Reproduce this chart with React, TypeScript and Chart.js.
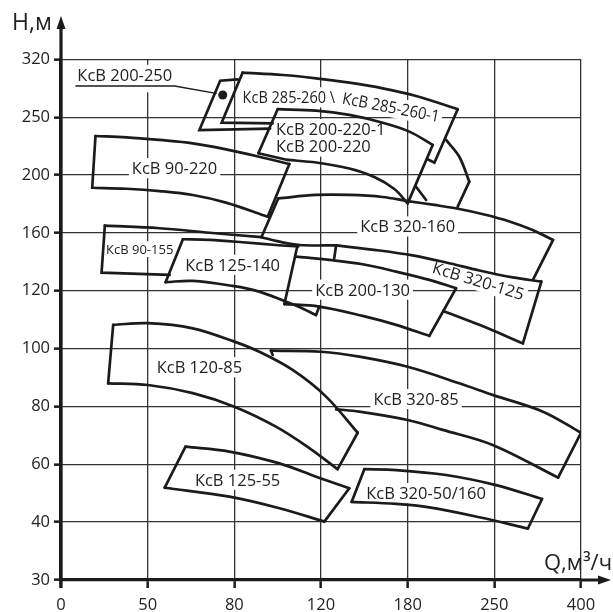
import React, { useEffect, useRef } from "react";
import { Chart, registerables, LinearScale } from "chart.js";

type Pt = [number, number]; // [Q, m³/h ; H, m]

// Axis stops: each interval between neighbouring stops gets the same length
const FLOW_TICKS = [0, 50, 80, 120, 180, 250, 400];
const HEAD_TICKS = [30, 40, 60, 80, 100, 120, 160, 200, 250, 320];

// Operating fields of the КсВ pumps: head curves (Q, H) and the edges between them
const KSV_200_250: Pt[] = [[81.5, 295.8], [75.1, 294.1], [67.9, 238.9], [96.5, 240.1]];
const KSV_200_250_POINT: Pt[] = [[76.0, 276.8]];
const KSV_200_250_LEADER: Pt[] = [[8.6, 287.7], [59.3, 287.7], [73.7, 278.9]];

const KSV_285_260_LEFT: Pt[] = [[97.7, 244.7], [75.6, 245.2], [83.8, 303.8]];
const KSV_285_260_TOP: Pt[] = [
  [83.8, 303.8], [102.3, 301.0], [117.7, 297.0], [139.6, 291.7], [162.7, 284.9], [186.8, 275.6], [220.4, 259.6],
];
const KSV_285_260_RIGHT: Pt[] = [[220.4, 259.6], [201.6, 210.6], [196.1, 213.6]];

const KSV_200_220_LEFT: Pt[] = [[91.1, 218.8], [100.0, 259.6]];
const KSV_200_220_TOP: Pt[] = [
  [100.0, 259.6], [117.7, 257.9], [139.6, 252.7], [162.7, 245.2], [181.4, 237.5], [200.2, 226.0],
];
const KSV_200_220_RIGHT: Pt[] = [[200.2, 226.0], [180.0, 180.4]];
const KSV_200_220_BOTTOM: Pt[] = [
  [180.0, 180.4], [170.8, 190.3], [156.9, 198.6], [139.6, 205.6], [117.8, 210.8], [104.6, 213.0],
];
const KSV_200_220_HEEL: Pt[] = [[104.6, 213.0], [91.1, 218.8]];
const KSV_200_220_1_EDGE: Pt[] = [[211.0, 230.3], [221.7, 215.8], [229.8, 195.4]];
const KSV_200_220_1_CORNER: Pt[] = [[229.8, 195.4], [220.4, 178.1]];
const KSV_200_220_1_BASE: Pt[] = [[186.8, 191.9], [194.9, 182.7]];

const KSV_90_220_TOP: Pt[] = [
  [19.9, 233.7], [37.8, 232.6], [54.1, 230.3], [65.6, 227.4], [77.1, 222.2], [91.5, 215.8], [105.4, 209.5],
];
const KSV_90_220_BOTTOM: Pt[] = [
  [95.4, 171.2], [77.1, 180.9], [65.6, 186.2], [54.1, 188.9], [37.8, 190.5], [18.0, 191.2],
];

const KSV_320_160_LEFT: Pt[] = [[92.5, 157.0], [100.3, 183.9]];
const KSV_320_160_TOP: Pt[] = [
  [100.3, 183.9], [117.7, 186.2], [139.6, 186.2], [162.7, 184.8], [180.0, 182.0], [201.6, 179.3],
  [221.7, 176.5], [241.9, 172.7], [276.2, 167.9], [316.3, 162.0], [351.7, 155.1],
];
const KSV_320_160_RIGHT: Pt[] = [[351.7, 155.1], [316.8, 127.5]];
const KSV_320_160_BASE: Pt[] = [[92.5, 157.0], [100.8, 153.9], [110.0, 151.6], [130.4, 151.3]];

const KSV_90_155_EDGE: Pt[] = [[57.6, 130.9], [23.4, 132.5], [25.3, 165.0]];
const KSV_90_155_TOP: Pt[] = [[25.3, 165.0], [54.1, 163.2], [71.4, 160.1], [92.5, 157.0]];

const KSV_125_140_TOP: Pt[] = [[109.5, 150.6], [99.2, 151.6], [83.8, 153.5], [71.4, 155.1], [62.2, 155.6]];
const KSV_125_140_LEFT: Pt[] = [[62.2, 155.6], [56.2, 125.9]];
const KSV_125_140_BOTTOM: Pt[] = [
  [56.2, 125.9], [65.6, 126.8], [79.4, 123.3], [91.5, 119.7], [103.9, 116.2], [110.0, 114.4], [117.7, 111.6],
];
const KSV_125_140_RIGHT: Pt[] = [[117.7, 111.6], [119.2, 114.5]];

const KSV_200_130_LEFT: Pt[] = [[109.2, 151.6], [103.1, 115.4]];
const KSV_200_130_BOTTOM: Pt[] = [[103.1, 115.4], [119.2, 114.5], [148.8, 111.3], [172.0, 108.2], [197.5, 104.4]];
const KSV_200_130_RIGHT: Pt[] = [[197.5, 104.4], [219.1, 121.7]];
const KSV_200_130_TOP: Pt[] = [[219.1, 121.7], [197.5, 127.5], [172.0, 133.2], [148.8, 138.3], [125.8, 141.3], [108.5, 143.6]];

const KSV_320_125_LEFT: Pt[] = [[129.2, 142.5], [130.4, 151.3]];
const KSV_320_125_TOP: Pt[] = [
  [130.4, 151.3], [160.4, 147.8], [184.0, 144.4], [211.0, 139.5], [237.9, 134.0], [281.9, 129.2], [331.4, 126.3],
];
const KSV_320_125_RIGHT: Pt[] = [[331.4, 126.3], [299.4, 101.8]];
const KSV_320_125_BOTTOM: Pt[] = [[299.4, 101.8], [237.9, 108.2], [208.8, 113.0]];

const KSV_120_85_TOP: Pt[] = [
  [30.1, 108.2], [50.1, 108.8], [65.6, 107.0], [80.0, 102.4], [91.5, 98.9], [106.9, 92.6], [123.5, 83.4], [145.4, 70.9],
];
const KSV_120_85_BOTTOM: Pt[] = [
  [131.5, 58.3], [114.6, 65.6], [99.2, 73.0], [80.0, 79.9], [65.6, 84.6], [50.1, 87.4], [27.2, 88.0],
];

const KSV_320_85_NOTCH: Pt[] = [[97.7, 97.8], [96.9, 99.3]];
const KSV_320_85_TOP: Pt[] = [
  [96.9, 99.3], [120.0, 98.9], [146.5, 97.2], [180.0, 93.7], [221.7, 88.0], [248.6, 84.0], [334.2, 78.2], [400.0, 70.9],
];
const KSV_320_85_RIGHT: Pt[] = [[400.0, 70.9], [360.4, 55.4]];
const KSV_320_85_BOTTOM: Pt[] = [
  [360.4, 55.4], [248.6, 66.7], [208.3, 71.9], [180.0, 75.3], [146.5, 78.2], [130.4, 79.0],
];

const KSV_125_55_TOP: Pt[] = [[63.1, 66.1], [78.3, 64.4], [100.8, 60.3], [117.7, 55.7], [139.6, 51.7]];
const KSV_125_55_BOTTOM: Pt[] = [[122.3, 40.2], [100.8, 44.8], [78.3, 48.8], [55.9, 51.9]];

const KSV_320_50_TOP: Pt[] = [[150.0, 58.3], [172.0, 58.0], [211.0, 56.3], [253.0, 52.8], [332.5, 48.0]];
const KSV_320_50_BOTTOM: Pt[] = [[308.1, 38.9], [237.9, 41.7], [197.5, 45.1], [172.0, 46.3], [141.2, 47.0]];

// Field names, anchored in (Q, H)
const FIELD_LABELS: {
  text: string; q: number; h: number; align?: "left"; angle?: number; small?: boolean; tall?: boolean; squeeze?: number;
}[] = [
  { text: "КсВ 200-250", q: 36.8, h: 301.0, tall: true },
  { text: "КсВ 285-260 \\", q: 83.8, h: 273.8, align: "left", squeeze: 0.88 },
  { text: "КсВ 285-260-1", q: 168.5, h: 262.0, angle: 11, squeeze: 0.9 },
  { text: "КсВ 200-220-1", q: 99.2, h: 239.5, align: "left" },
  { text: "КсВ 200-220", q: 99.2, h: 224.5, align: "left" },
  { text: "КсВ 90-220", q: 59.3, h: 205.8 },
  { text: "КсВ 320-160", q: 180.0, h: 164.3 },
  { text: "КсВ 90-155", q: 45.4, h: 148.7, small: true },
  { text: "КсВ 125-140", q: 79.4, h: 137.8 },
  { text: "КсВ 200-130", q: 148.8, h: 120.6 },
  { text: "КсВ 320-125", q: 237.1, h: 126.8, angle: 17 },
  { text: "КсВ 120-85", q: 67.9, h: 93.5 },
  { text: "КсВ 320-85", q: 186.8, h: 82.5 },
  { text: "КсВ 125-55", q: 81.5, h: 54.6 },
  { text: "КсВ 320-50/160", q: 194.9, h: 50.0 },
];

const INK = "#1b1b1b";
const FONT = '"Open Sans", "Noto Sans", sans-serif';

// Scale whose stops are spaced evenly, with linear interpolation inside each interval
const STOPS: Record<string, number[]> = { x: FLOW_TICKS, y: HEAD_TICKS };

function valueToFraction(v: number, s: number[]) {
  const n = s.length - 1;
  let i = 0;
  while (i < n - 1 && v > s[i + 1]) i++;
  return (i + (v - s[i]) / (s[i + 1] - s[i])) / n;
}

function fractionToValue(f: number, s: number[]) {
  const n = s.length - 1;
  const t = Math.min(Math.max(f * n, 0), n);
  const i = Math.min(Math.floor(t), n - 1);
  return s[i] + (t - i) * (s[i + 1] - s[i]);
}

class StepScale extends LinearScale {
  static id = "step";
  buildTicks() {
    const self: any = this;
    self.start = self.min;
    self.end = self.max;
    return STOPS[self.id].map((value: number) => ({ value }));
  }
  getPixelForValue(value: number) {
    if (value === null || value === undefined || isNaN(value)) return NaN;
    return this.getPixelForDecimal(valueToFraction(value, STOPS[(this as any).id]));
  }
  getValueForPixel(pixel: number) {
    return fractionToValue(this.getDecimalForPixel(pixel), STOPS[(this as any).id]);
  }
}

Chart.register(...registerables, StepScale as any);

// A head curve is drawn smooth, an edge is drawn straight
function run(pts: Pt[], smooth: boolean, width = 2.7) {
  return {
    data: pts.map(([q, h]) => ({ x: q, y: h })),
    showLine: true,
    borderColor: INK,
    borderWidth: width,
    pointRadius: 0,
    tension: smooth ? 0.35 : 0,
    fill: false,
    borderJoinStyle: "miter" as const,
    borderCapStyle: "round" as const,
  };
}
const curve = (pts: Pt[]) => run(pts, true);
const edge = (pts: Pt[]) => run(pts, false);

// Closed field: upper curve left→right, lower curve right→left, joined by straight edges
function closedField(top: Pt[], bottom: Pt[]) {
  return [
    curve(top),
    edge([top[top.length - 1], bottom[0]]),
    curve(bottom),
    edge([bottom[bottom.length - 1], top[0]]),
  ];
}

const fieldLabels = {
  id: "fieldLabels",
  beforeDatasetsDraw(chart: any) {
    const { ctx } = chart;
    const xs = chart.scales.x;
    const ys = chart.scales.y;
    for (const lab of FIELD_LABELS) {
      const size = lab.small ? 13 : 16.5;
      const sq = lab.squeeze || 1;
      ctx.save();
      ctx.font = `${size}px ${FONT}`;
      const w = ctx.measureText(lab.text).width;
      ctx.translate(xs.getPixelForValue(lab.q), ys.getPixelForValue(lab.h));
      ctx.rotate(((lab.angle || 0) * Math.PI) / 180);
      ctx.scale(sq, 1);
      const x0 = lab.align === "left" ? 0 : -w / 2;
      ctx.fillStyle = "#fff";
      const below = lab.tall ? size * 1.05 : size * 0.6;
      ctx.fillRect(x0 - 3, -size * 0.62, w + 6, size * 0.62 + below);
      ctx.fillStyle = "#222";
      ctx.textAlign = "left";
      ctx.textBaseline = "middle";
      ctx.fillText(lab.text, x0, 1);
      ctx.restore();
    }
  },
};

const axisArrows = {
  id: "axisArrows",
  afterDraw(chart: any) {
    const { ctx, chartArea: a } = chart;
    ctx.save();
    ctx.strokeStyle = INK;
    ctx.fillStyle = INK;
    ctx.lineWidth = 3.2;
    ctx.beginPath();
    ctx.moveTo(a.left, a.bottom + 8);
    ctx.lineTo(a.left, 26);
    ctx.moveTo(a.right, a.bottom);
    ctx.lineTo(600, a.bottom);
    ctx.stroke();
    ctx.beginPath();
    ctx.moveTo(a.left, 16);
    ctx.lineTo(a.left - 4.5, 29);
    ctx.lineTo(a.left + 4.5, 29);
    ctx.closePath();
    ctx.fill();
    ctx.beginPath();
    ctx.moveTo(611, a.bottom);
    ctx.lineTo(598, a.bottom - 4.5);
    ctx.lineTo(598, a.bottom + 4.5);
    ctx.closePath();
    ctx.fill();
    ctx.fillStyle = "#222";
    ctx.textBaseline = "alphabetic";
    ctx.font = `23px ${FONT}`;
    ctx.textAlign = "left";
    ctx.fillText("Н,м", 12, 30);
    ctx.font = `22px ${FONT}`;
    ctx.textAlign = "right";
    ctx.fillText("Q,м³/ч", 612, 570);
    ctx.restore();
  },
};

export default function App() {
  const ref = useRef<HTMLCanvasElement>(null);

  useEffect(() => {
    const canvas = ref.current;
    if (!canvas) return;

    const datasets: any[] = [
      edge(KSV_200_250),
      {
        data: KSV_200_250_POINT.map(([q, h]) => ({ x: q, y: h })),
        showLine: false,
        pointRadius: 4.5,
        pointBackgroundColor: INK,
        pointBorderWidth: 0,
      },
      run(KSV_200_250_LEADER, false, 1.3),
      edge(KSV_285_260_LEFT),
      curve(KSV_285_260_TOP),
      edge(KSV_285_260_RIGHT),
      edge(KSV_200_220_LEFT),
      curve(KSV_200_220_TOP),
      edge(KSV_200_220_RIGHT),
      curve(KSV_200_220_BOTTOM),
      edge(KSV_200_220_HEEL),
      curve(KSV_200_220_1_EDGE),
      edge(KSV_200_220_1_CORNER),
      edge(KSV_200_220_1_BASE),
      ...closedField(KSV_90_220_TOP, KSV_90_220_BOTTOM),
      edge(KSV_320_160_LEFT),
      curve(KSV_320_160_TOP),
      edge(KSV_320_160_RIGHT),
      curve(KSV_320_160_BASE),
      edge(KSV_90_155_EDGE),
      curve(KSV_90_155_TOP),
      curve(KSV_125_140_TOP),
      edge(KSV_125_140_LEFT),
      curve(KSV_125_140_BOTTOM),
      edge(KSV_125_140_RIGHT),
      edge(KSV_200_130_LEFT),
      curve(KSV_200_130_BOTTOM),
      edge(KSV_200_130_RIGHT),
      curve(KSV_200_130_TOP),
      edge(KSV_320_125_LEFT),
      curve(KSV_320_125_TOP),
      edge(KSV_320_125_RIGHT),
      curve(KSV_320_125_BOTTOM),
      ...closedField(KSV_120_85_TOP, KSV_120_85_BOTTOM),
      edge(KSV_320_85_NOTCH),
      curve(KSV_320_85_TOP),
      edge(KSV_320_85_RIGHT),
      curve(KSV_320_85_BOTTOM),
      ...closedField(KSV_125_55_TOP, KSV_125_55_BOTTOM),
      ...closedField(KSV_320_50_TOP, KSV_320_50_BOTTOM),
    ];

    const tickFont = { family: FONT, size: 16.5 };

    const chart = new Chart(canvas, {
      type: "scatter",
      data: { datasets },
      plugins: [fieldLabels, axisArrows],
      options: {
        animation: false,
        responsive: false,
        events: [],
        layout: { padding: { top: 59.3, right: 32, left: 0, bottom: 0 } },
        plugins: { legend: { display: false }, tooltip: { enabled: false } },
        scales: {
          x: {
            type: "step" as any,
            min: 0,
            max: 400,
            grid: { color: "#333", lineWidth: 1.3, tickLength: 8, tickWidth: 2.5, tickColor: INK },
            border: { color: INK, width: 3.2 },
            ticks: {
              font: tickFont,
              color: "#222",
              padding: 7,
              maxRotation: 0,
              autoSkip: false,
              callback: (v: any) => String(v),
            },
            afterFit: (s: any) => {
              s.height = 32;
            },
          },
          y: {
            type: "step" as any,
            min: 30,
            max: 320,
            grid: { color: "#333", lineWidth: 1.3, tickLength: 7, tickWidth: 2.5, tickColor: INK },
            border: { color: INK, width: 3.2 },
            ticks: {
              font: tickFont,
              color: "#222",
              padding: 4,
              autoSkip: false,
              callback: (v: any) => String(v),
            },
            afterFit: (s: any) => {
              s.width = 61;
            },
          },
        },
      } as any,
    });

    return () => chart.destroy();
  }, []);

  return (
    <div style={{ position: "fixed", left: 0, top: 0, width: 613, height: 612, background: "#fff" }}>
      <canvas ref={ref} width={613} height={612} style={{ display: "block", width: 613, height: 612 }} />
    </div>
  );
}
